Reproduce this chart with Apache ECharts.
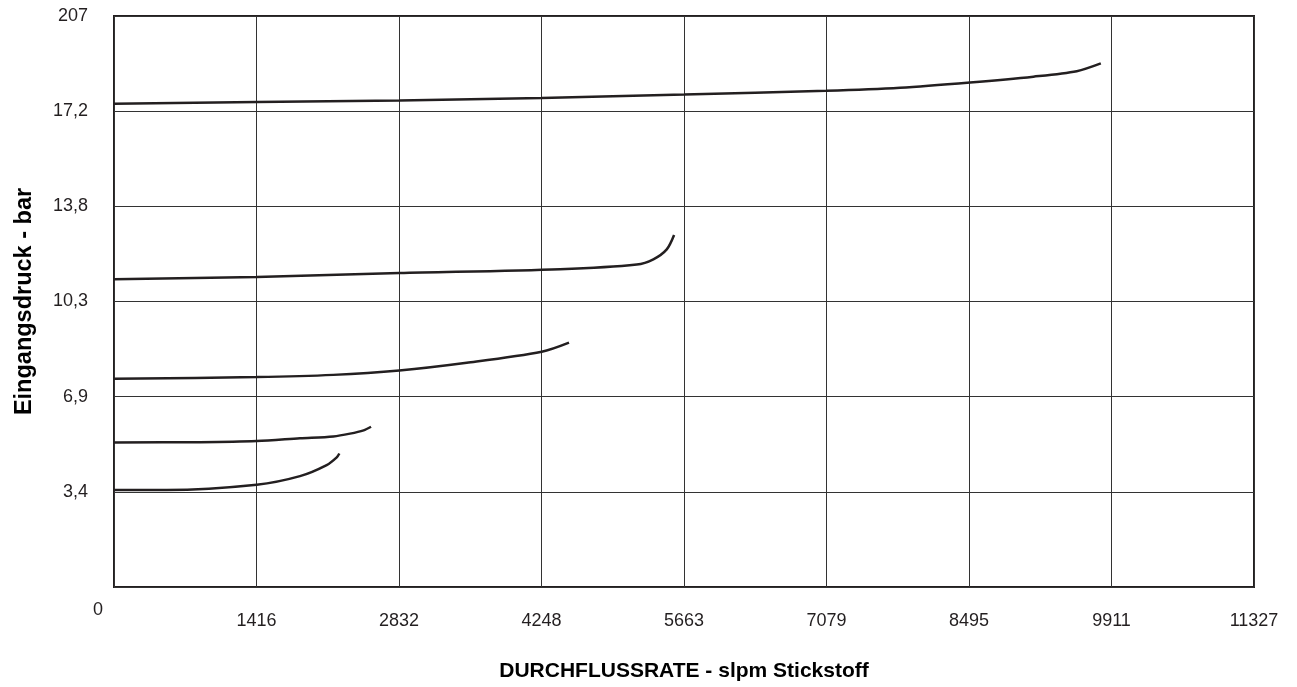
<!DOCTYPE html>
<html>
<head>
<meta charset="utf-8">
<script src="https://cdn.jsdelivr.net/npm/echarts@6/dist/echarts.min.js"></script>
<style>html,body{margin:0;padding:0;background:#fff}#c{width:1297px;height:687px}</style>
</head>
<body>
<div id="c"></div>
<script>
// Tick labels
const xTickLabels = ['0','1416','2832','4248','5663','7079','8495','9911','11327'];
const yTickLabels = ['0','3,4','6,9','10,3','13,8','17,2','207'];
const xStep = 11327 / 8;
const yStep = 3.45;

// Curves: [slpm, bar]
const curve1 = [[0,17.52],[1418,17.58],[2835,17.64],[4250,17.73],[5664,17.85],[7075,17.99],[7811,18.10],[8506,18.29],[9135,18.50],[9566,18.70],[9805,18.98]];
const curve2 = [[0,11.16],[1418,11.24],[2835,11.38],[4432,11.52],[5194,11.69],[5359,11.88],[5492,12.24],[5565,12.76]];
const curve3 = [[0,7.55],[1418,7.61],[2179,7.69],[2835,7.85],[3505,8.13],[4250,8.53],[4521,8.86]];
const curve4 = [[0,5.24],[855,5.25],[1418,5.29],[1848,5.39],[2179,5.46],[2345,5.56],[2480,5.68],[2554,5.81]];
const curve5 = [[0,3.52],[524,3.52],[1418,3.71],[1848,4.02],[2113,4.42],[2213,4.70],[2239,4.84]];

const chart = echarts.init(document.getElementById('c'), null, {renderer:'canvas'});
const lineStyle = {color:'#231f20', width:2.5};
function mk(d){ return {type:'line', data:d, smooth:0.3, showSymbol:false, symbol:'none', lineStyle:lineStyle, animation:false, silent:true}; }
const ff = 'Liberation Sans, Arial, sans-serif';

chart.setOption({
  animation:false,
  grid:{left:114, right:43, top:16, bottom:98, show:true, borderColor:'#231f20', borderWidth:2, containLabel:false},
  xAxis:{
    type:'value', min:0, max:11327, interval:xStep,
    axisLine:{show:false}, axisTick:{show:false},
    splitLine:{show:true, lineStyle:{color:'#333', width:1}},
    axisLabel:{margin:25, fontSize:18, color:'#231f20', fontFamily:ff,
      formatter:function(v){ const i=Math.round(v/xStep); return i===0?'':xTickLabels[i]; }},
    name:'DURCHFLUSSRATE - slpm Stickstoff', nameLocation:'middle', nameGap:74,
    nameTextStyle:{fontSize:21, fontWeight:'bold', color:'#000', fontFamily:ff}
  },
  yAxis:{
    type:'value', min:0, max:20.7, interval:yStep,
    axisLine:{show:false}, axisTick:{show:false},
    splitLine:{show:true, lineStyle:{color:'#333', width:1}},
    axisLabel:{margin:26, fontSize:18, color:'#231f20', fontFamily:ff,
      formatter:function(v){ const i=Math.round(v/yStep); return i===0?'':yTickLabels[i]; }},
    name:'Eingangsdruck - bar', nameLocation:'middle', nameGap:77, nameRotate:90,
    nameTextStyle:{fontSize:23.5, fontWeight:'bold', color:'#000', fontFamily:ff}
  },
  graphic:[{type:'text', left:93, top:601, style:{text:xTickLabels[0], fontSize:18, fill:'#231f20', fontFamily:ff}}],
  series:[mk(curve1), mk(curve2), mk(curve3), mk(curve4), mk(curve5)]
});
</script>
</body>
</html>
